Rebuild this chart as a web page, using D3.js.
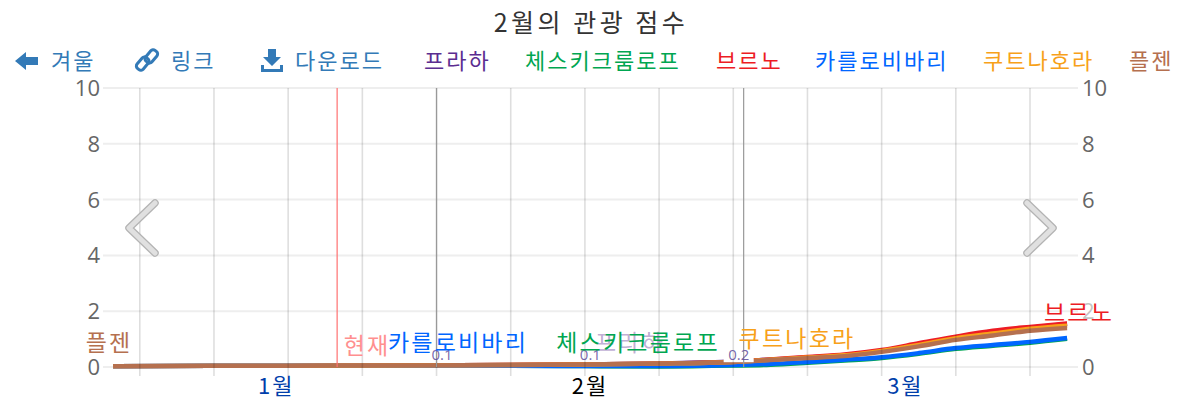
<!DOCTYPE html>
<html><head><meta charset="utf-8">
<script src="https://cdn.jsdelivr.net/npm/d3@7"></script>
<style>
html,body{margin:0;padding:0;background:#fff;overflow:hidden}
text{font-family:"Noto Sans CJK KR","Noto Sans",sans-serif}
.num{font-family:"Open Sans","Noto Sans",sans-serif}
</style></head><body><svg id="c" width="1199" height="404"></svg>
<script>
const title = "2월의 관광 점수";
const navItems = ["겨울","링크","다운로드"];
const seriesNames = ["프라하","체스키크룸로프","브르노","카를로비바리","쿠트나호라","플젠"];
const seriesColors = ["#5b2d91","#00a651","#ed1c24","#0066ff","#f7a11a","#b5704f"];
const monthLabels = ["1월","2월","3월"];
const monthWeeks = [1.84,6.07,10.32];
const yTicks = [0,2,4,6,8,10];
const weekTicks = [0,1,2,3,4,5,6,7,8,9,10,11,12];
const weeks = [-0.36,1,2,3,4,5,6,7,8,8.5,9,9.5,10,10.5,11,11.5,12,12.5];
const prague  = [0.03,0.04,0.04,0.05,0.06,0.07,0.09,0.13,0.2,0.27,0.34,0.42,0.58,0.79,1.05,1.22,1.4,1.54];
const cesky   = [0.03,0.04,0.04,0.04,0.04,0.04,0.03,0.02,0.05,0.08,0.15,0.23,0.32,0.47,0.65,0.76,0.87,1.01];
const brno    = [0.03,0.04,0.04,0.05,0.06,0.07,0.09,0.12,0.19,0.27,0.36,0.45,0.61,0.85,1.09,1.3,1.44,1.56];
const karlovy = [0.03,0.04,0.04,0.04,0.04,0.04,0.03,0.03,0.07,0.11,0.18,0.26,0.35,0.5,0.68,0.79,0.9,1.04];
const kutna   = [0.03,0.04,0.04,0.05,0.06,0.07,0.09,0.12,0.18,0.26,0.34,0.42,0.58,0.79,1.03,1.2,1.37,1.48];
const plzen   = [0.03,0.04,0.04,0.05,0.06,0.07,0.09,0.12,0.18,0.25,0.32,0.39,0.54,0.74,0.97,1.13,1.3,1.4];
const allSeries = [prague,cesky,brno,karlovy,kutna,plzen];
const currentWeek = 2.66;
const markerWeeks = [4,8.14];
const noteWeeks = [4,6,8];
const noteLabels = ["0.1","0.1","0.2"];

const svg = d3.select("#c");
const x = d3.scaleLinear().domain([0,12]).range([139.8,1030]);
const y = d3.scaleLinear().domain([0,10]).range([367,88]);
const tickFont = 22;

// horizontal grid
svg.append("g").selectAll("line").data(yTicks).join("line")
  .attr("x1",103).attr("x2",1078).attr("y1",d=>y(d)).attr("y2",d=>y(d))
  .attr("stroke","#eeeeee").attr("stroke-width",2);

// series
const line = d3.line().x((d,i)=>x(weeks[i])).y(d=>y(d)).curve(d3.curveMonotoneX);
svg.append("g").selectAll("path").data(allSeries).join("path")
  .attr("d",line).attr("fill","none")
  .attr("stroke",(d,i)=>seriesColors[i]).attr("stroke-width",4.4).attr("stroke-linejoin","round");

// note background covering the upper lines
svg.append("rect").attr("x",x(8)-9.6).attr("y",344).attr("width",30).attr("height",18.2).attr("fill","#fff");

// vertical grid
svg.append("g").selectAll("line").data(weekTicks).join("line")
  .attr("x1",d=>x(d)).attr("x2",d=>x(d)).attr("y1",y(10)).attr("y2",376)
  .attr("stroke","#000").attr("stroke-opacity",.13).attr("stroke-width",1.6);

// plot lines
svg.append("line").attr("x1",x(currentWeek)).attr("x2",x(currentWeek)).attr("y1",y(10)).attr("y2",y(0))
  .attr("stroke","#ff7070").attr("stroke-width",1.2);
svg.append("g").selectAll("line").data(markerWeeks).join("line")
  .attr("x1",d=>x(d)).attr("x2",d=>x(d)).attr("y1",y(10)).attr("y2",y(0))
  .attr("stroke","#999").attr("stroke-width",1.2);

// notes
svg.append("g").selectAll("text").data(noteLabels).join("text").attr("class","num")
  .attr("x",(d,i)=>x(noteWeeks[i])+5.5).attr("y",360).attr("text-anchor","middle")
  .attr("font-size",15).attr("fill","#5b4a9a").attr("fill-opacity",.85).text(d=>d);

// y labels
[[100,"end"],[1082,"start"]].forEach(([px,anchor])=>{
  svg.append("g").selectAll("text").data(yTicks).join("text").attr("class","num")
    .attr("x",px).attr("y",d=>y(d)+8).attr("text-anchor",anchor)
    .attr("font-size",tickFont).attr("fill","#666")
    .attr("fill-opacity",d=>(anchor=="start"&&d==2)?.4:1).text(d=>d);
});

// x labels
svg.append("g").selectAll("text").data(monthLabels).join("text")
  .attr("x",(d,i)=>x(monthWeeks[i])).attr("y",394).attr("text-anchor","middle")
  .attr("font-size",22).attr("letter-spacing",2).attr("fill",(d,i)=>i==1?"#000":"#003eaa").text(d=>d);

// series labels on chart
const labelX = [630,638,1079,458,797,109];
const labelY = [351,351,321,351,347,351];
const labelOp = [.4,1,1,1,1,1];
svg.append("text").attr("x",x(currentWeek)+30).attr("y",354).attr("text-anchor","middle")
  .attr("font-size",23).attr("letter-spacing",2.2).attr("fill","#ff8f8f").text("현재");
svg.append("g").selectAll("text").data(seriesNames).join("text")
  .attr("x",(d,i)=>labelX[i]).attr("y",(d,i)=>labelY[i]).attr("text-anchor","middle")
  .attr("font-size",23).attr("letter-spacing",2.2).attr("fill",(d,i)=>seriesColors[i]).attr("fill-opacity",(d,i)=>labelOp[i]).text(d=>d);

// title
svg.append("text").attr("x",591).attr("y",32).attr("text-anchor","middle")
  .attr("font-size",25).attr("letter-spacing",3.5).attr("fill","#333").text(title);

// nav
const navColor = "#337ab7";
const navX = [51,171,295];
svg.append("g").selectAll("text").data(navItems).join("text")
  .attr("x",(d,i)=>navX[i]).attr("y",69).attr("font-size",22).attr("letter-spacing",2).attr("fill",navColor).text(d=>d);
svg.append("path").attr("fill",navColor)
  .attr("d","M15 61 L26 52 L26 57 L38 57 L38 65 L26 65 L26 70 Z");
svg.append("g").attr("transform","translate(147,60) rotate(-50)").selectAll("rect").data([-5.5,5.5]).join("rect")
  .attr("x",d=>d-7).attr("y",d=>d<0?-5:-3).attr("width",14).attr("height",8).attr("rx",3)
  .attr("fill","none").attr("stroke",navColor).attr("stroke-width",3);
svg.append("path").attr("fill",navColor)
  .attr("d","M268 49 L276 49 L276 57 L281 57 L272 66 L263 57 L268 57 Z M261 65 L264 65 L264 69 L280 69 L280 65 L283 65 L283 72 L261 72 Z");

// legend
const legX = [424,525,716,815,983,1129];
svg.append("g").selectAll("text").data(seriesNames).join("text")
  .attr("x",(d,i)=>legX[i]).attr("y",69).attr("font-size",22).attr("letter-spacing",2).attr("fill",(d,i)=>seriesColors[i]).text(d=>d);

// carousel arrows
["M155 203 L129 228 L155 253","M1027 203 L1053 228 L1027 253"].forEach(d=>{
  svg.append("path").attr("d",d).attr("fill","none").attr("stroke","#b4b4b4").attr("stroke-width",7.5)
    .attr("stroke-linecap","round").attr("stroke-linejoin","round");
  svg.append("path").attr("d",d).attr("fill","none").attr("stroke","#e0e0e0").attr("stroke-width",5)
    .attr("stroke-linecap","round").attr("stroke-linejoin","round");
});
</script></body></html>
